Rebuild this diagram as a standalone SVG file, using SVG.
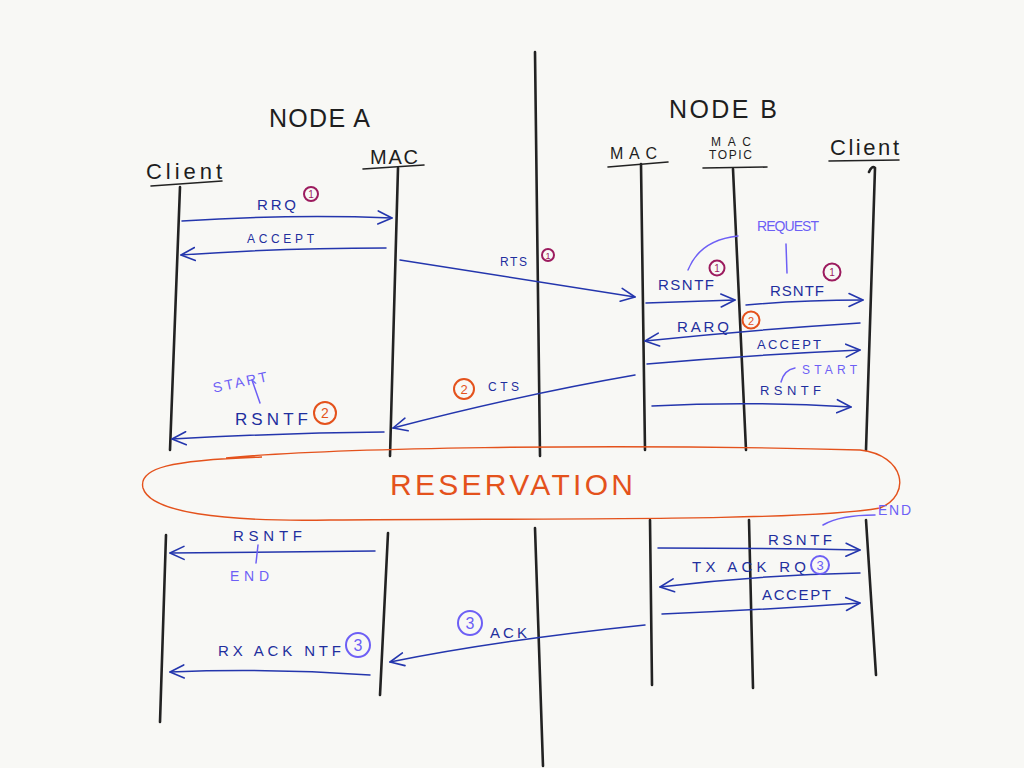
<svg xmlns="http://www.w3.org/2000/svg" width="1024" height="768" viewBox="0 0 1024 768">
<defs>
<marker id="ah" viewBox="-15 -8 17 16" refX="0" refY="0" markerWidth="17" markerHeight="16" markerUnits="userSpaceOnUse" orient="auto">
<path d="M-14,-6.5 L0,0 L-14,6.5" fill="none" stroke="#2436ad" stroke-width="1.6" stroke-linecap="round" stroke-linejoin="round"/>
</marker>
<style>
.life{fill:none;stroke:#222;stroke-width:2.6;stroke-linecap:round}
.head{fill:none;stroke:#222;stroke-width:1.6;stroke-linecap:round}
.msg{fill:none;stroke:#2436ad;stroke-width:1.5;stroke-linecap:round;marker-end:url(#ah)}
.ttl{font-family:"Liberation Sans",sans-serif;font-size:25px;fill:#1e1e1e}
.hd{font-family:"Liberation Sans",sans-serif;font-size:20px;fill:#1e1e1e}
.lb{font-family:"Liberation Sans",sans-serif;font-size:15px;fill:#1f2f9e;letter-spacing:1px}
.an{font-family:"Liberation Sans",sans-serif;font-size:14px;fill:#6d5ff5;letter-spacing:1px}
.anl{fill:none;stroke:#6d5ff5;stroke-width:1.5;stroke-linecap:round}
.c1{fill:none;stroke:#9c1b5e;stroke-width:2}
.c2{fill:none;stroke:#e4521c;stroke-width:2}
.c3{fill:none;stroke:#6d5ff5;stroke-width:2}
.n1{font-family:"Liberation Sans",sans-serif;font-size:10px;fill:#9c1b5e;text-anchor:middle}
.n2{font-family:"Liberation Sans",sans-serif;font-size:13px;fill:#e4521c;text-anchor:middle}
.n3{font-family:"Liberation Sans",sans-serif;font-size:16px;fill:#6d5ff5;text-anchor:middle}
</style>
</defs>
<rect width="1024" height="768" fill="#f8f8f5"/>

<g id="titles">
<text class="ttl" x="269" y="127" textLength="101">NODE A</text>
<text class="ttl" x="669" y="118" textLength="108">NODE B</text>
</g>

<g id="divider">
<path class="life" d="M535,52 L540,456"/>
<path class="life" d="M535,528 L543,766"/>
</g>

<g id="clientA">
<text class="hd" x="146" y="179" textLength="76" style="font-size:22px">Client</text>
<path class="head" d="M151,186 L222,181"/>
<path class="life" d="M180,187 L170,450"/>
<path class="life" d="M166,535 L160,722"/>
</g>

<g id="macA">
<text class="hd" x="370" y="164" textLength="48">MAC</text>
<path class="head" d="M363,169 L424,165"/>
<path class="life" d="M398,168 L390,456"/>
<path class="life" d="M388,533 L380,695"/>
</g>

<g id="macB">
<text class="hd" x="610" y="159" textLength="47" style="font-size:16px">MAC</text>
<path class="head" d="M608,167 L668,162"/>
<path class="life" d="M641,164 L645,450"/>
<path class="life" d="M650,520 L652,685"/>
</g>

<g id="macTopic">
<text class="hd" x="711" y="146" style="font-size:12px" textLength="40">MAC</text>
<text class="hd" x="709" y="159" style="font-size:12px" textLength="43">TOPIC</text>
<path class="head" d="M703,168 L767,167"/>
<path class="life" d="M733,169 L746,450"/>
<path class="life" d="M749,520 L753,688"/>
</g>

<g id="clientB">
<text class="hd" x="830" y="155" textLength="69" style="font-size:22px">Client</text>
<path class="head" d="M829,161 L899,160"/>
<path class="life" d="M869,172 Q872,165 875,168 L866,450"/>
<path class="life" d="M866,520 L876,675"/>
</g>

<g id="reservation">
<path d="M226,458 C330,448 600,443 860,450 C905,455 912,495 880,508 C800,522 520,518 330,520 C220,522 150,512 143,488 C138,468 170,460 262,457" fill="none" stroke="#e4521c" stroke-width="1.4"/>
<text x="514" y="495" text-anchor="middle" font-family="Liberation Sans, sans-serif" font-size="30" fill="#e4521c" letter-spacing="5" textLength="248">RESERVATION</text>
</g>

<g id="connectors">
<path class="msg" d="M182,221 Q290,214 392,218"/>
<path class="msg" d="M386,248 Q280,248 181,255"/>
<path class="msg" d="M400,260 L635,297"/>
<path class="msg" d="M646,303 L735,300"/>
<path class="msg" d="M746,305 Q800,300 863,300"/>
<path class="msg" d="M860,323 Q750,330 645,341"/>
<path class="msg" d="M647,364 Q750,355 860,350"/>
<path class="msg" d="M652,406 Q750,401 851,407"/>
<path class="msg" d="M635,375 Q520,395 393,428"/>
<path class="msg" d="M384,432 Q280,433 172,439"/>
<path class="msg" d="M375,551 L170,553"/>
<path class="msg" d="M658,548 Q760,548 860,550"/>
<path class="msg" d="M860,573 Q760,575 660,587"/>
<path class="msg" d="M662,614 Q760,610 860,603"/>
<path class="msg" d="M645,625 Q500,640 390,662"/>
<path class="msg" d="M370,675 Q270,668 170,672"/>
</g>

<g id="labels">
<text class="lb" x="257" y="210" textLength="40">RRQ</text>
<circle class="c1" cx="311" cy="194" r="7"/><text class="n1" x="311" y="198">1</text>
<text class="lb" x="247" y="243" textLength="68" style="font-size:12px">ACCEPT</text>
<text class="lb" x="500" y="266" textLength="28" style="font-size:12px">RTS</text>
<circle class="c1" cx="548" cy="255" r="6"/><text class="n1" x="548" y="259" style="font-size:9px">1</text>
<text class="lb" x="658" y="290" textLength="57">RSNTF</text>
<circle class="c1" cx="717" cy="268" r="7.5"/><text class="n1" x="717" y="272">1</text>
<text class="lb" x="770" y="296" textLength="55">RSNTF</text>
<circle class="c1" cx="832" cy="272" r="8.5"/><text class="n1" x="832" y="276">1</text>
<text class="lb" x="677" y="332" textLength="53">RARQ</text>
<circle class="c2" cx="751" cy="320" r="8.5"/><text class="n2" x="751" y="325" style="font-size:11px">2</text>
<text class="lb" x="757" y="349" textLength="65" style="font-size:13px">ACCEPT</text>
<text class="lb" x="760" y="395" textLength="62" style="font-size:13px">RSNTF</text>
<text class="lb" x="488" y="391" textLength="32" style="font-size:12px">CTS</text>
<circle class="c2" cx="464" cy="389" r="10"/><text class="n2" x="464" y="394">2</text>
<text class="lb" x="235" y="425" textLength="74" style="font-size:17px">RSNTF</text>
<circle class="c2" cx="325" cy="413" r="11"/><text class="n2" x="325" y="418" style="font-size:14px">2</text>
<text class="lb" x="233" y="541" textLength="70">RSNTF</text>
<text class="lb" x="768" y="545" textLength="65">RSNTF</text>
<text class="lb" x="692" y="572" textLength="115">TX ACK RQ</text>
<circle class="c3" cx="820" cy="565" r="9"/><text class="n3" x="820" y="570" style="font-size:13px">3</text>
<text class="lb" x="762" y="600" textLength="70">ACCEPT</text>
<text class="lb" x="490" y="638" textLength="38">ACK</text>
<circle class="c3" cx="470" cy="623" r="12"/><text class="n3" x="470" y="629">3</text>
<text class="lb" x="218" y="656" textLength="124">RX ACK NTF</text>
<circle class="c3" cx="358" cy="645" r="12"/><text class="n3" x="358" y="651">3</text>
</g>

<g id="annotations">
<text class="an" x="757" y="231" textLength="63">REQUEST</text>
<path class="anl" d="M688,270 Q700,240 738,236"/>
<path class="anl" d="M786,244 L787,273"/>
<text class="an" x="802" y="374" textLength="56" style="font-size:12px">START</text>
<path class="anl" d="M781,382 Q784,370 795,368"/>
<text class="an" x="212" y="387" textLength="56" transform="rotate(-12 240 380)">START</text>
<path class="anl" d="M252,380 L260,403"/>
<text class="an" x="230" y="581" textLength="40">END</text>
<path class="anl" d="M258,545 L256,563"/>
<text class="an" x="878" y="515" textLength="34">END</text>
<path class="anl" d="M823,525 Q840,515 875,515"/>
</g>
</svg>
